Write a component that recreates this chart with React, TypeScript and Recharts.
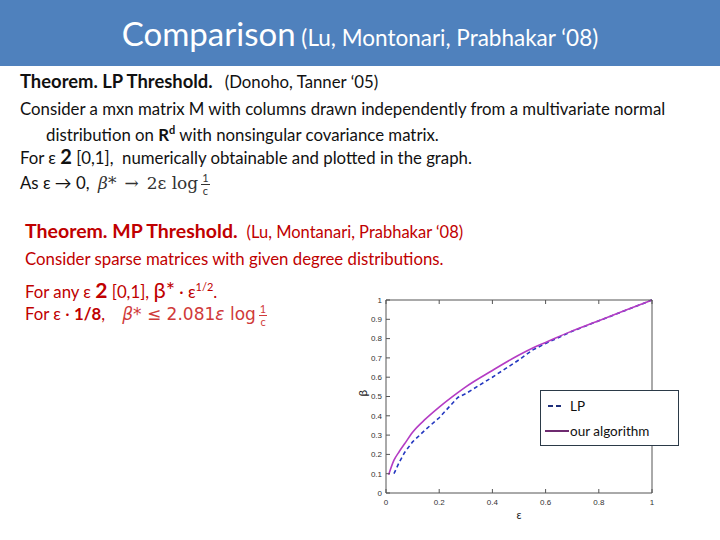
import { LineChart, Line, XAxis, YAxis, Legend } from 'recharts';

// values
const epsilon = [0.01, 0.03, 0.05, 0.07, 0.1, 0.15, 0.2, 0.27, 0.3, 0.4, 0.5, 0.55, 0.6, 0.7, 0.8, 0.9, 1.0];
const lpThreshold = [null, 0.1, 0.16, 0.21, 0.265, 0.33, 0.39, 0.495, 0.515, 0.6, 0.69, 0.74, 0.775, 0.838, 0.892, 0.946, 1.0];
const ourAlgorithm = [0.095, 0.17, 0.215, 0.255, 0.315, 0.385, 0.445, 0.52, 0.55, 0.635, 0.715, 0.75, 0.78, 0.84, 0.893, 0.947, 1.0];
const xTicks = [0, 0.2, 0.4, 0.6, 0.8, 1];
const yTicks = [0, 0.1, 0.2, 0.3, 0.4, 0.5, 0.6, 0.7, 0.8, 0.9, 1];
const seriesNames = ['LP', 'our algorithm'];

const chartData = epsilon.map((e, i) => ({ eps: e, lp: lpThreshold[i], ours: ourAlgorithm[i] }));

const FONT = 'Lato, "Open Sans", sans-serif';
const RED = '#c00000';
const AXIS = '#555';

const line = (top: number, left: number, extra: any = {}) => ({
  position: 'absolute' as const,
  top,
  left,
  lineHeight: '20px',
  whiteSpace: 'nowrap' as const,
  ...extra,
});

const Frac = ({ color, bottom }: { color: string; bottom: string }) => (
  <span style={{ display: 'inline-flex', flexDirection: 'column', alignItems: 'center', verticalAlign: 'middle', fontSize: 11, lineHeight: '12px', margin: '0 3px', color }}>
    <span style={{ borderBottom: `1px solid ${color}`, padding: '0 1px' }}>1</span>
    <span>{bottom}</span>
  </span>
);

const LegendBox = () => (
  <div style={{ position: 'absolute', left: 190, top: 100, width: 139, height: 56, border: '1px solid #2b3a48', background: '#fff', fontFamily: FONT, fontSize: 13.5, color: '#111', boxSizing: 'border-box' }}>
    <div style={{ position: 'absolute', left: 7, top: 7, width: 120, display: 'flex', alignItems: 'center' }}>
      <svg width={15} height={4} style={{ flexShrink: 0 }}><line x1={0} y1={2} x2={15} y2={2} stroke="#1f2f7a" strokeWidth={2} strokeDasharray="5 3" /></svg>
      <span style={{ marginLeft: 7, whiteSpace: 'nowrap' }}>{seriesNames[0]}</span>
    </div>
    <div style={{ position: 'absolute', left: 4, top: 32, width: 130, display: 'flex', alignItems: 'center' }}>
      <svg width={24} height={4} style={{ flexShrink: 0 }}><line x1={0} y1={2} x2={24} y2={2} stroke="#6e2a70" strokeWidth={2} /></svg>
      <span style={{ marginLeft: 1, whiteSpace: 'nowrap' }}>{seriesNames[1]}</span>
    </div>
  </div>
);

export default function App() {
  return (
    <div style={{ position: 'absolute', left: 0, top: 0, width: 720, height: 540, overflow: 'hidden', background: '#fff', fontFamily: FONT }}>
      <div style={{ position: 'absolute', left: 0, top: 0, width: 720, height: 66, background: '#4f81bd', color: '#fff', textAlign: 'center', lineHeight: '66px' }}>
        <span style={{ fontSize: 33 }}>Comparison</span>
        <span style={{ fontSize: 22.5 }}> (Lu, Montonari, Prabhakar ‘08)</span>
      </div>

      <div style={{ fontSize: 16.8, color: '#111' }}>
        <div style={line(71, 20)}>
          <b style={{ fontSize: 18.4 }}>Theorem. LP Threshold.</b>
          <span style={{ marginLeft: 12 }}>(Donoho, Tanner ‘05)</span>
        </div>
        <div style={line(99, 20)}>Consider a mxn matrix M with columns drawn independently from a multivariate normal</div>
        <div style={line(120, 46)}>distribution on <b>R<sup style={{ fontSize: 11 }}>d</sup></b> with nonsingular covariance matrix.</div>
        <div style={line(146, 20)}>For ε <b style={{ fontSize: 20 }}>2</b> [0,1],&nbsp; numerically obtainable and plotted in the graph.</div>
        <div style={line(172, 20)}>
          As ε → 0,&nbsp;&nbsp;
          <span style={{ fontFamily: '"DejaVu Serif", serif', color: '#333', fontSize: 17, fontStyle: 'italic' }}>β*</span>
          <span style={{ fontFamily: '"DejaVu Serif", serif', color: '#333', fontSize: 17, margin: '0 8px' }}>→</span>
          <span style={{ fontFamily: '"DejaVu Serif", serif', color: '#333', fontSize: 17 }}>2ε log</span>
          <Frac color="#333" bottom="c" />
        </div>
      </div>

      <div style={{ fontSize: 16.8, color: RED }}>
        <div style={line(221, 25)}>
          <b style={{ fontSize: 19.5 }}>Theorem. MP Threshold.</b>
          <span style={{ marginLeft: 9, fontSize: 16.5 }}>(Lu, Montanari, Prabhakar ‘08)</span>
        </div>
        <div style={line(249, 25)}>Consider sparse matrices with given degree distributions.</div>
        <div style={line(277, 25)}>
          For any ε <b style={{ fontSize: 21 }}>2</b> [0,1], <span style={{ fontSize: 22 }}>β*</span> · ε<sup style={{ fontSize: 11 }}>1/2</sup>.
        </div>
        <div style={line(303, 25)}>
          For ε · <b>1/8</b>,&nbsp;&nbsp;&nbsp;&nbsp;
          <span style={{ fontFamily: '"DejaVu Sans", sans-serif', color: '#d03a3a', fontSize: 17 }}>
            <i>β*</i> ≤ 2.081<i>ε</i> log
          </span>
          <Frac color="#d03a3a" bottom="c" />
        </div>
      </div>

      <div style={{ position: 'absolute', left: 350, top: 290 }}>
        <LineChart width={340} height={240} data={chartData} margin={{ top: 9, right: 37, left: 10, bottom: 7 }}>
          <XAxis
            dataKey="eps"
            type="number"
            domain={[0, 1]}
            ticks={xTicks}
            height={30}
            stroke={AXIS}
            tickSize={-4}
            tickMargin={10}
            tick={{ fontSize: 8, fill: '#333', fontFamily: 'Liberation Sans, Arial' }}
            label={{ value: 'ε', position: 'insideBottom', offset: 4, fontSize: 11, fill: '#222' }}
          />
          <XAxis xAxisId="top" orientation="top" dataKey="eps" type="number" domain={[0, 1]} ticks={xTicks} height={1} stroke={AXIS} tickSize={-4} tickFormatter={() => ''} />
          <YAxis
            type="number"
            domain={[0, 1]}
            ticks={yTicks}
            width={26}
            stroke={AXIS}
            tickSize={-4}
            tickMargin={8}
            tick={{ fontSize: 8, fill: '#333', fontFamily: 'Liberation Sans, Arial' }}
            label={{ value: 'β', angle: -90, position: 'insideLeft', offset: 3, fontSize: 12, fill: '#222' }}
          />
          <YAxis yAxisId="right" orientation="right" type="number" domain={[0, 1]} ticks={yTicks} width={1} stroke={AXIS} tickSize={-4} tickFormatter={() => ''} />
          <Line type="linear" dataKey="lp" name={seriesNames[0]} stroke="#2438c0" strokeWidth={1.6} strokeDasharray="4 3" dot={false} isAnimationActive={false} />
          <Line type="monotone" dataKey="ours" name={seriesNames[1]} stroke="#b43cc4" strokeWidth={1.6} dot={false} isAnimationActive={false} />
          <Legend content={() => <LegendBox />} wrapperStyle={{ left: 0, top: 0, width: 0, height: 0 }} />
        </LineChart>
      </div>
    </div>
  );
}
